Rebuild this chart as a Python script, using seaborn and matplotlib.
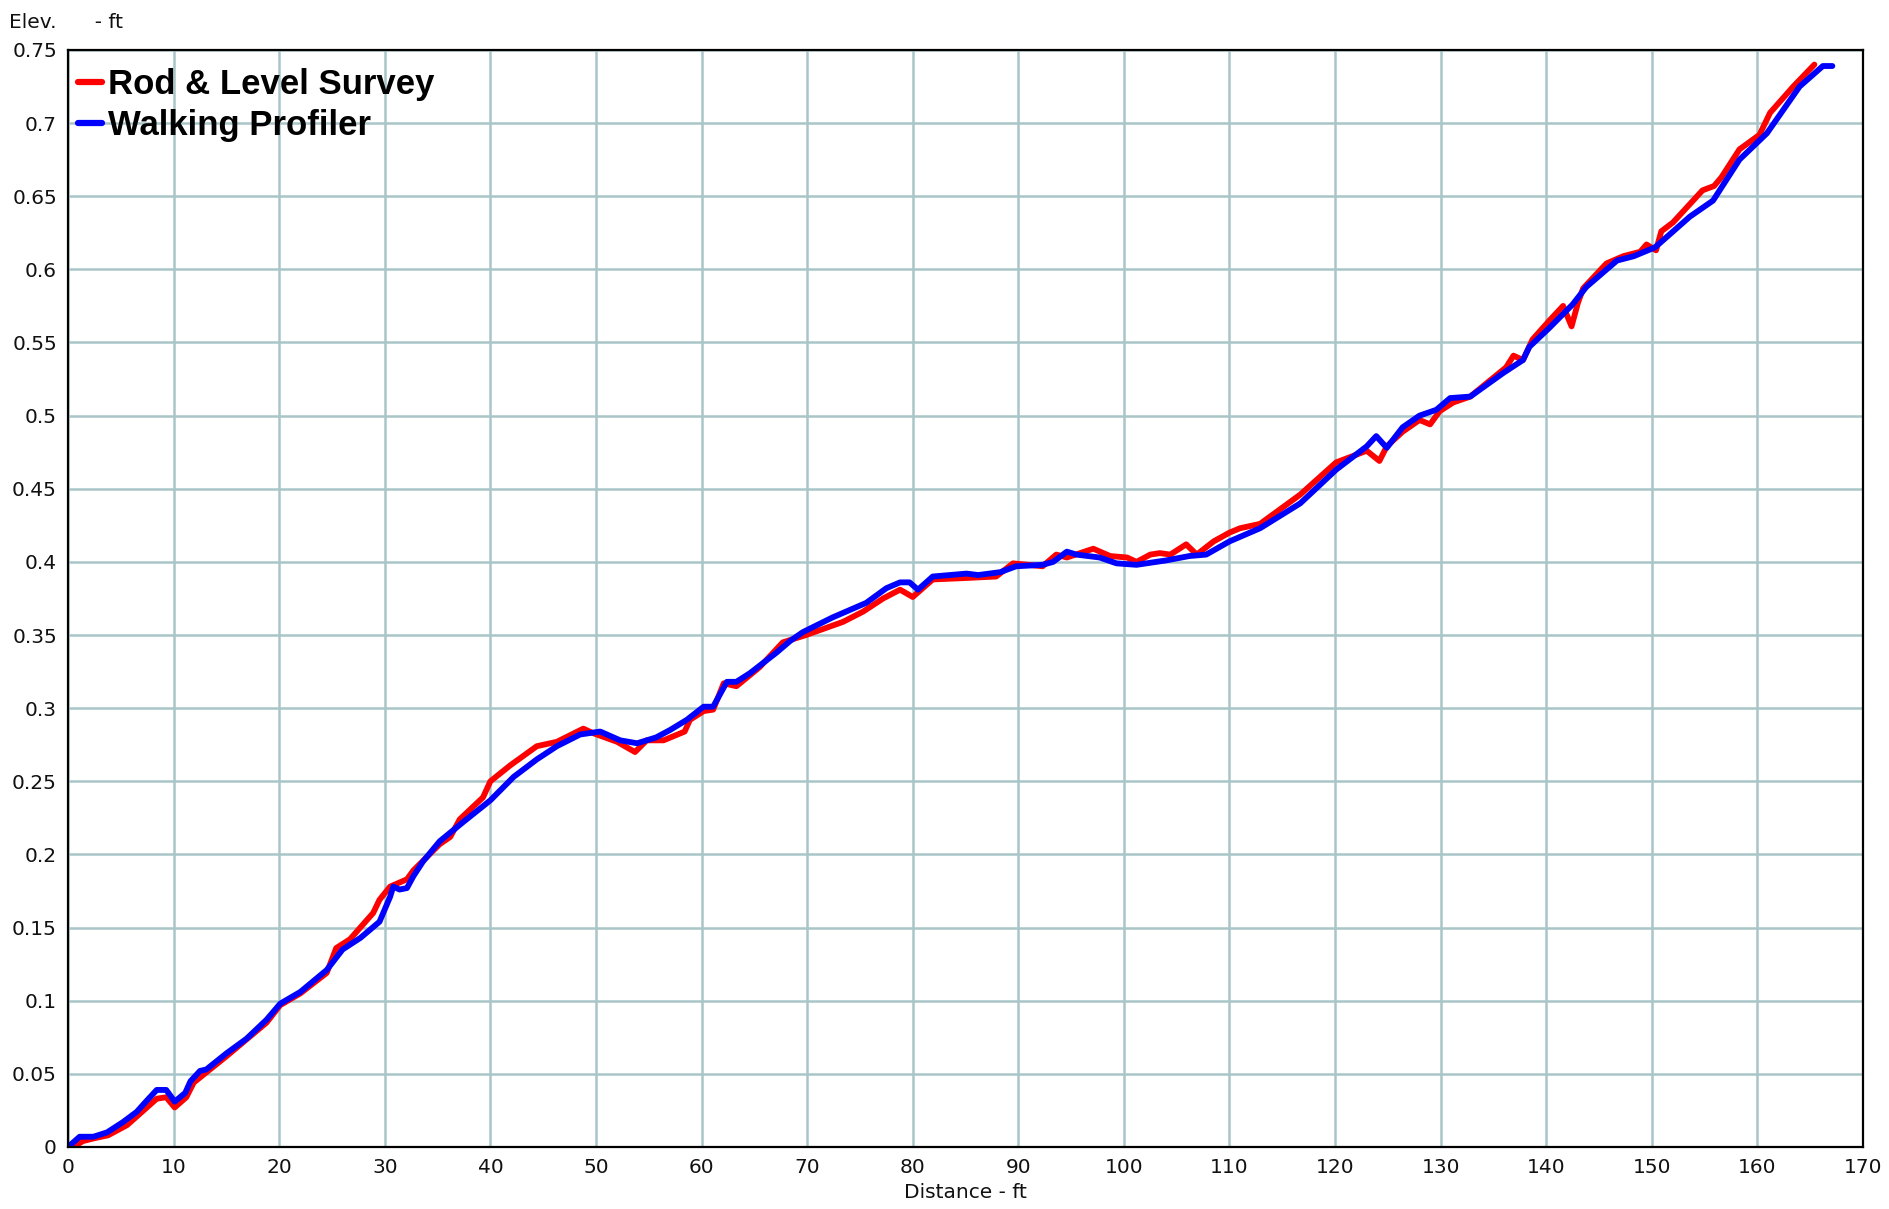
import matplotlib

matplotlib.use("Agg")

import matplotlib.pyplot as plt
import numpy as np
import pandas as pd
import seaborn as sns
from matplotlib.ticker import MultipleLocator, FormatStrFormatter


# Rod & Level Survey (red)
ROD_X = [0.5, 1.4, 2.5, 3.8, 5.6, 7.0, 8.4, 9.3, 10.1, 11.2, 11.9, 13.1, 15.0, 18.8,
         20.1, 22.0, 24.5, 25.4, 26.7, 28.9, 29.5, 30.5, 32.1, 32.7, 35.2, 36.2, 37.1,
         39.3, 40.0, 41.9, 44.4, 46.3, 48.8, 49.7, 52.0, 53.7, 54.8, 56.4, 58.4, 58.9,
         60.2, 61.1, 62.1, 63.3, 65.5, 67.7, 69.9, 73.4, 75.3, 77.2, 78.8, 80.0, 81.9,
         85.1, 87.9, 89.5, 92.3, 93.6, 94.6, 97.1, 98.7, 100.3, 101.2, 102.5, 103.4,
         104.4, 105.9, 106.9, 108.5, 110.0, 111.0, 112.9, 116.7, 120.1, 123.0, 124.2,
         124.9, 126.4, 128.0, 129.0, 129.9, 131.2, 132.8, 136.2, 136.9, 137.8, 138.7,
         140.3, 141.6, 142.4, 143.0, 143.5, 145.7, 147.3, 148.9, 149.5, 150.4, 150.9,
         152.0, 154.8, 155.9, 156.6, 158.3, 160.2, 161.2, 163.4, 165.4]
ROD_Y = [0.000, 0.004, 0.006, 0.008, 0.015, 0.024, 0.033, 0.034, 0.027, 0.034, 0.044,
         0.051, 0.062, 0.085, 0.097, 0.105, 0.119, 0.136, 0.142, 0.160, 0.169, 0.178,
         0.183, 0.189, 0.207, 0.212, 0.224, 0.239, 0.250, 0.261, 0.274, 0.277, 0.286,
         0.283, 0.277, 0.270, 0.278, 0.278, 0.284, 0.292, 0.298, 0.299, 0.317, 0.315,
         0.328, 0.345, 0.350, 0.359, 0.366, 0.375, 0.381, 0.376, 0.388, 0.389, 0.390,
         0.399, 0.397, 0.405, 0.403, 0.409, 0.404, 0.403, 0.400, 0.405, 0.406, 0.405,
         0.412, 0.405, 0.414, 0.420, 0.423, 0.426, 0.446, 0.468, 0.476, 0.469, 0.479,
         0.489, 0.497, 0.494, 0.503, 0.509, 0.513, 0.533, 0.541, 0.538, 0.552, 0.565,
         0.575, 0.561, 0.577, 0.587, 0.604, 0.609, 0.612, 0.617, 0.613, 0.626, 0.632,
         0.654, 0.657, 0.663, 0.682, 0.692, 0.707, 0.725, 0.740]

# Walking Profiler (blue)
WALK_X = [0.0, 1.1, 2.4, 3.7, 5.2, 6.5, 7.5, 8.4, 9.3, 10.1, 11.1, 11.6, 12.5, 13.1,
          15.0, 16.9, 18.8, 20.1, 22.0, 24.5, 26.0, 27.7, 29.5, 30.5, 30.8, 31.4, 32.1,
          32.7, 33.6, 35.2, 37.4, 40.0, 42.2, 44.4, 46.3, 48.5, 50.4, 52.3, 53.9, 55.7,
          57.0, 58.6, 60.2, 61.1, 62.4, 63.3, 64.6, 67.1, 68.4, 69.6, 72.4, 75.6, 77.5,
          78.8, 79.7, 80.5, 81.9, 85.1, 86.2, 88.3, 89.8, 92.3, 93.3, 94.6, 95.5, 97.7,
          99.3, 101.2, 104.0, 106.2, 107.8, 110.0, 112.9, 116.7, 120.1, 123.0, 123.9,
          124.9, 126.4, 128.0, 129.6, 130.9, 132.8, 135.9, 137.8, 138.4, 140.3, 142.5,
          143.8, 146.7, 148.3, 150.3, 153.6, 155.8, 158.3, 160.9, 164.0, 166.2, 167.1]
WALK_Y = [0.000, 0.007, 0.007, 0.010, 0.017, 0.024, 0.032, 0.039, 0.039, 0.031, 0.037,
          0.045, 0.052, 0.053, 0.064, 0.074, 0.087, 0.098, 0.106, 0.121, 0.135, 0.143,
          0.154, 0.171, 0.178, 0.176, 0.177, 0.185, 0.195, 0.209, 0.222, 0.237, 0.253,
          0.265, 0.274, 0.282, 0.284, 0.278, 0.276, 0.280, 0.285, 0.292, 0.301, 0.301,
          0.318, 0.318, 0.324, 0.338, 0.346, 0.352, 0.362, 0.372, 0.382, 0.386, 0.386,
          0.381, 0.390, 0.392, 0.391, 0.393, 0.397, 0.398, 0.400, 0.407, 0.405, 0.403,
          0.399, 0.398, 0.401, 0.404, 0.405, 0.414, 0.423, 0.440, 0.463, 0.479, 0.486,
          0.478, 0.492, 0.500, 0.504, 0.512, 0.513, 0.529, 0.538, 0.547, 0.560, 0.576,
          0.588, 0.606, 0.609, 0.615, 0.636, 0.647, 0.675, 0.693, 0.725, 0.739, 0.739]

SERIES = ["Rod & Level Survey", "Walking Profiler"]
COLORS = ["#ff0000", "#0000ff"]


def main():
    df = pd.concat([
        pd.DataFrame({"distance": ROD_X, "elev": ROD_Y, "series": SERIES[0]}),
        pd.DataFrame({"distance": WALK_X, "elev": WALK_Y, "series": SERIES[1]}),
    ], ignore_index=True)

    sns.set_style("white")
    plt.rcParams["font.family"] = ["DejaVu Sans"]

    fig = plt.figure(figsize=(18.9, 12.09), dpi=100)
    ax = fig.add_axes([0.036, 0.0513, 0.9497, 0.9074])

    sns.lineplot(data=df, x="distance", y="elev", hue="series", hue_order=SERIES,
                 palette=COLORS, sort=False, estimator=None, linewidth=4.2, ax=ax)

    ax.set_xlim(0, 170)
    ax.set_ylim(0, 0.75)
    ax.xaxis.set_major_locator(MultipleLocator(10))
    ax.xaxis.set_minor_locator(MultipleLocator(2))
    ax.yaxis.set_major_locator(MultipleLocator(0.05))
    ax.yaxis.set_minor_locator(MultipleLocator(0.01))
    ax.yaxis.set_major_formatter(FormatStrFormatter("%g"))

    ax.grid(True, which="major", color="#a9c5c8", linewidth=1.8)
    ax.set_axisbelow(True)
    for side in ["left", "right", "top", "bottom"]:
        ax.spines[side].set_color("#000000")
        ax.spines[side].set_linewidth(1.6)

    ax.tick_params(axis="both", which="major", direction="inout", length=8, width=1.4,
                   labelsize=14.5, colors="#000000", labelcolor="#111111", pad=4)
    ax.tick_params(axis="both", which="minor", direction="inout", length=5, width=1.2,
                   colors="#000000")

    ax.set_xlabel("Distance - ft", fontsize=14.5, color="#111111", labelpad=4)
    ax.set_ylabel("")
    fig.text(0.005, 1 - 22 / 1209, "Elev.      - ft", fontsize=14.5, color="#111111",
             va="center", ha="left")

    leg = ax.legend(loc="upper left", bbox_to_anchor=(0.0056, 0.9835), frameon=False,
                    borderpad=0, borderaxespad=0, handlelength=0.7, handletextpad=0.15,
                    labelspacing=0.22, labelcolor="#000000",
                    prop={"family": "Liberation Sans", "weight": "bold", "size": 25})
    for line in leg.get_lines():
        line.set_linewidth(4.5)

    fig.savefig("out.png", dpi=100)
    plt.close(fig)


if __name__ == "__main__":
    main()
